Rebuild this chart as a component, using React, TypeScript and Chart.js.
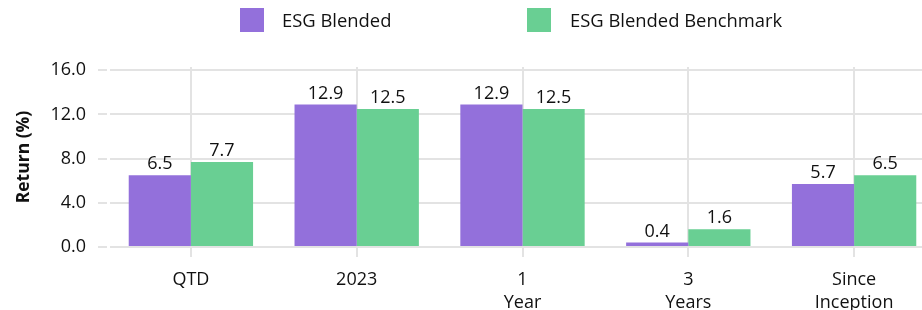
import React, { useEffect, useRef } from "react";
import { Chart, registerables } from "chart.js";

Chart.register(...registerables);

const categories: (string | string[])[] = ["QTD", "2023", ["1", "Year"], ["3", "Years"], ["Since", "Inception"]];
const seriesNames = ["ESG Blended", "ESG Blended Benchmark"];
const esgBlended = [6.5, 12.9, 12.9, 0.4, 5.7];
const esgBenchmark = [7.7, 12.5, 12.5, 1.6, 6.5];
const yTicks = [0, 4, 8, 12, 16];
const colors = ["#9370DB", "#69CF93"];

const FONT = "'Open Sans', 'Noto Sans', sans-serif";
const GRID = "#e3e3e3";
const TEXT = "#111111";

const valueLabels = {
  id: "valueLabels",
  afterDatasetsDraw(chart: any) {
    const ctx = chart.ctx;
    ctx.save();
    ctx.font = `18px ${FONT}`;
    ctx.fillStyle = TEXT;
    ctx.textAlign = "center";
    ctx.textBaseline = "alphabetic";
    chart.data.datasets.forEach((ds: any, i: number) => {
      const meta = chart.getDatasetMeta(i);
      meta.data.forEach((bar: any, j: number) => {
        const v = ds.data[j];
        ctx.fillText(v.toFixed(1), bar.x, bar.y - 6);
      });
    });
    ctx.restore();
  },
};

export default function App() {
  const ref = useRef<HTMLCanvasElement>(null);
  useEffect(() => {
    document.body.style.margin = "0";
    const chart = new Chart(ref.current!, {
      type: "bar",
      data: {
        labels: categories,
        datasets: [
          { label: seriesNames[0], data: esgBlended, backgroundColor: colors[0], categoryPercentage: 0.75, barPercentage: 1 },
          { label: seriesNames[1], data: esgBenchmark, backgroundColor: colors[1], categoryPercentage: 0.75, barPercentage: 1 },
        ],
      },
      options: {
        animation: false,
        responsive: false,
        layout: { padding: { top: 67, right: 3, left: 0, bottom: 0 } },
        font: { family: FONT, size: 18 },
        plugins: { legend: { display: false }, tooltip: { enabled: false } },
        scales: {
          x: {
            grid: { color: GRID, lineWidth: 2, offset: false, tickLength: 10, tickColor: GRID },
            border: { display: false },
            ticks: { color: TEXT, font: { family: FONT, size: 18, lineHeight: 1.28 }, padding: 11, maxRotation: 0, autoSkip: false },
            afterFit: (s: any) => { s.height = 63; },
          },
          y: {
            min: 0,
            max: 16.3,
            afterBuildTicks: (s: any) => { s.ticks = yTicks.map((v) => ({ value: v })); },
            grid: { color: GRID, lineWidth: 2, tickLength: 10, tickColor: GRID },
            border: { display: true, color: "#ffffff", width: 3 },
            ticks: { color: TEXT, font: { family: FONT, size: 18 }, padding: 12, callback: (v: any) => Number(v).toFixed(1) },
            title: { display: true, text: "Return (%)", color: TEXT, font: { family: FONT, size: 17.5, weight: "bold" }, padding: { top: 14, bottom: 0 } },
            afterFit: (s: any) => { s.width = 108; },
          },
        },
      },
      plugins: [valueLabels],
    });
    return () => chart.destroy();
  }, []);

  const legendItem = (i: number, boxLeft: number, textLeft: number) => (
    <React.Fragment key={i}>
      <div style={{ position: "absolute", left: boxLeft, top: 8, width: 24, height: 24, background: colors[i] }} />
      <div style={{ position: "absolute", left: textLeft, top: 8, height: 24, lineHeight: "24px", fontFamily: FONT, fontSize: 18.4, color: TEXT, whiteSpace: "nowrap" }}>
        {seriesNames[i]}
      </div>
    </React.Fragment>
  );

  return (
    <div style={{ position: "absolute", left: 0, top: 0, width: 922, height: 310, overflow: "hidden", background: "#fff" }}>
      <canvas ref={ref} width={940} height={310} style={{ position: "absolute", left: 0, top: 0 }} />
      {legendItem(0, 240, 282)}
      {legendItem(1, 527, 570)}
    </div>
  );
}
